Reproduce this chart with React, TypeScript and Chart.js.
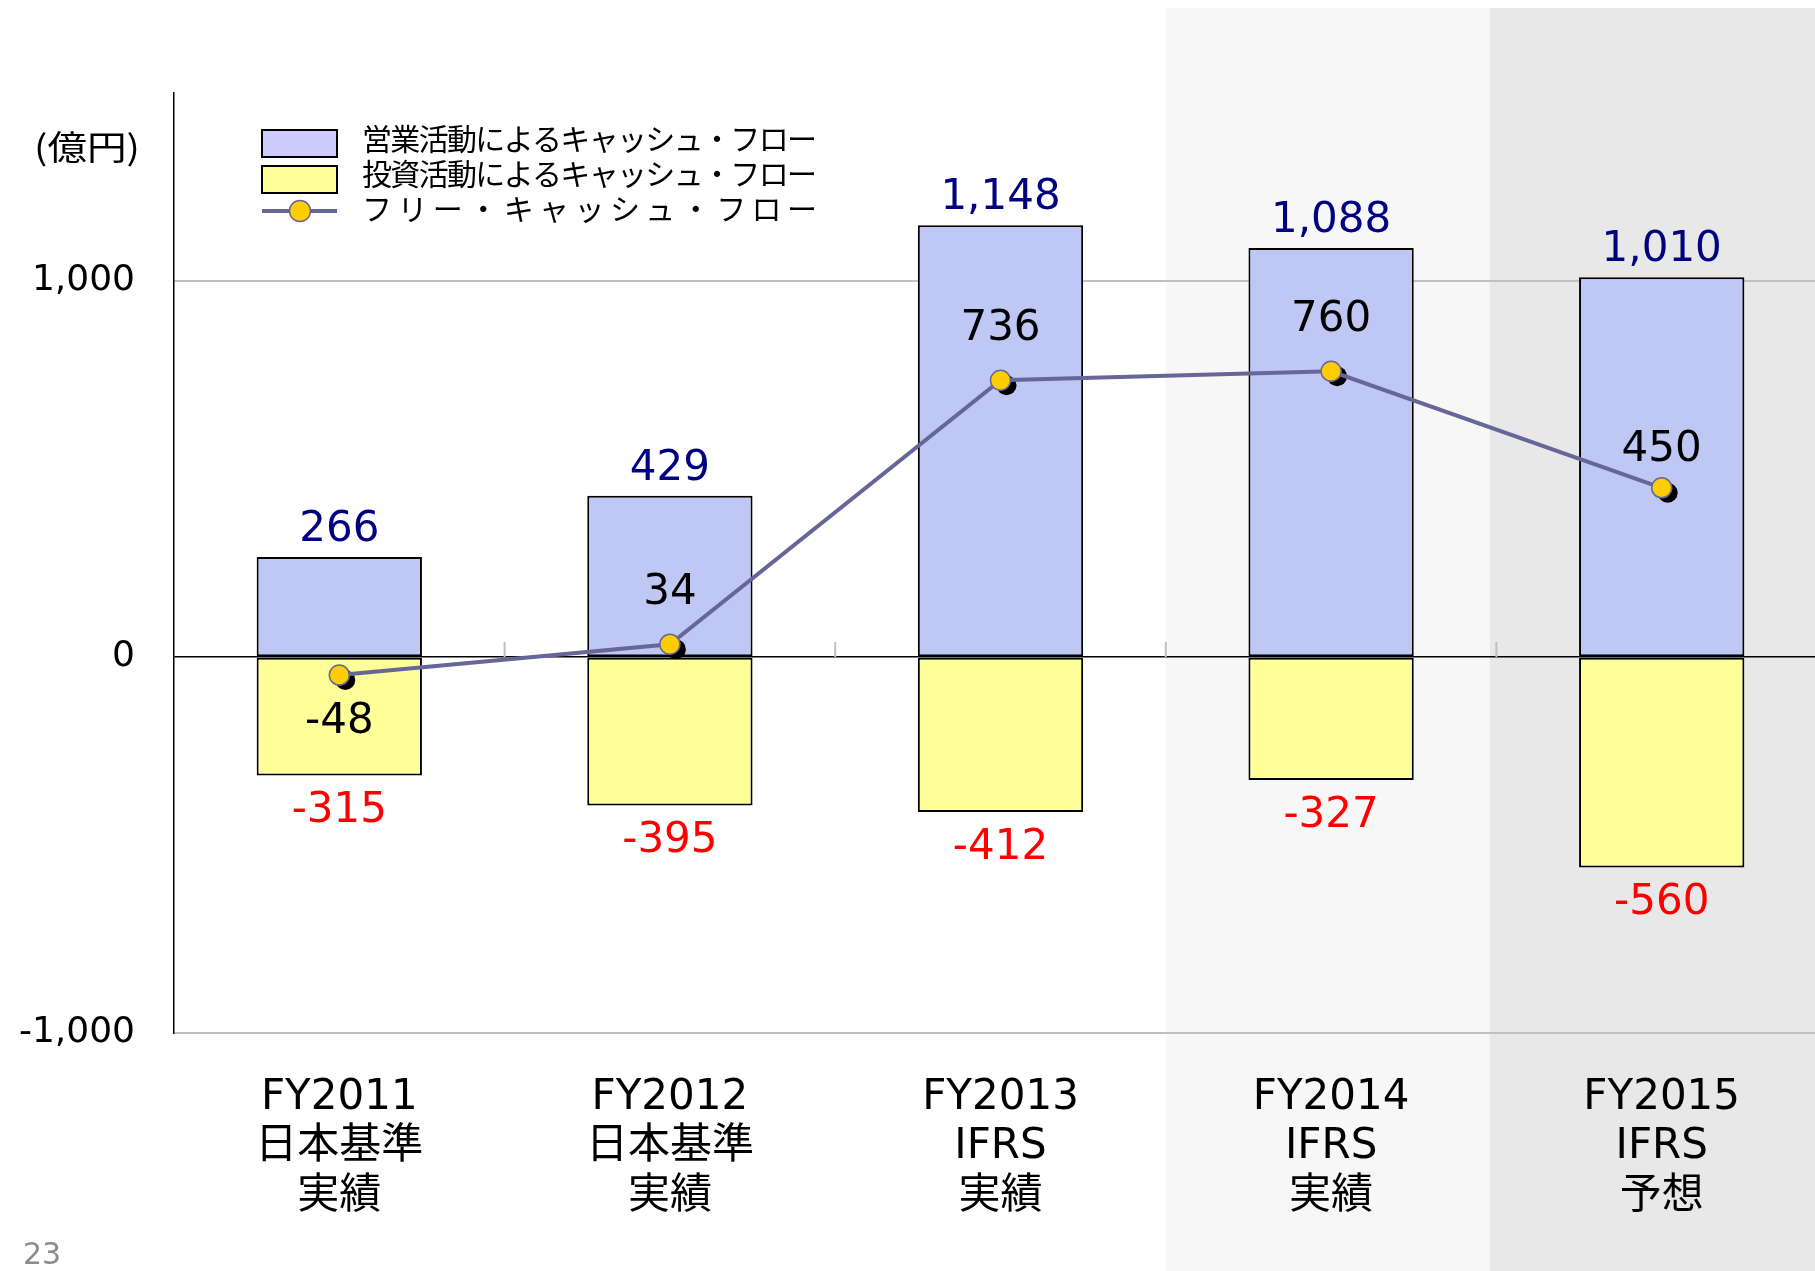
import React, { useEffect, useRef } from 'react';
import { Chart, registerables } from 'chart.js';

Chart.register(...registerables);

// ---- data ----
const categories = [
  ['FY2011', '日本基準', '実績'],
  ['FY2012', '日本基準', '実績'],
  ['FY2013', 'IFRS', '実績'],
  ['FY2014', 'IFRS', '実績'],
  ['FY2015', 'IFRS', '予想'],
];
const operatingCF = [266, 429, 1148, 1088, 1010];
const investingCF = [-315, -395, -412, -327, -560];
const freeCF = [-48, 34, 736, 760, 450];
const yTickValues = [-1000, 0, 1000];
const seriesNames = [
  '営業活動によるキャッシュ・フロー',
  '投資活動によるキャッシュ・フロー',
  'フリー・キャッシュ・フロー',
];
const unitLabel = '(億円)';
const pageNumber = '23';

// ---- styles ----
const fcfLabelOffset = [47, -51, -51, -51, -38];
const opColor = '#BFC7F5';
const opLegendColor = '#CCCCFF';
const invColor = '#FFFF99';
const lineColor = '#666699';
const pointColor = '#FFCC00';
const bands = [
  { from: 2.5, to: 3.48, color: '#F7F7F7' },
  { from: 3.48, to: 5.5, color: '#E8E8E8' },
];
const NUM_FONT = "'DejaVu Sans', 'Noto Sans CJK JP', sans-serif";
const JP_FONT = "'Noto Sans CJK JP', 'DejaVu Sans', sans-serif";

const fmt = (v: number) => v.toLocaleString('en-US');

const bandPlugin = {
  id: 'bands',
  beforeDraw(chart: any) {
    const { ctx } = chart;
    const x = chart.scales.x;
    ctx.save();
    ctx.fillStyle = '#FFFFFF';
    ctx.fillRect(0, 0, chart.width, chart.height);
    for (const b of bands) {
      const l = x.getPixelForValue(b.from);
      const r = x.getPixelForValue(b.to);
      ctx.fillStyle = b.color;
      ctx.fillRect(l, 8, r - l, chart.height - 8);
    }
    ctx.restore();
  },
  beforeDatasetsDraw(chart: any) {
    const { ctx } = chart;
    const x = chart.scales.x;
    const y = chart.scales.y;
    const y0 = y.getPixelForValue(0);
    ctx.save();
    ctx.strokeStyle = '#BFBFBF';
    ctx.lineWidth = 2;
    for (let i = 0; i < categories.length - 1; i++) {
      const px = x.getPixelForValue(i + 0.5);
      ctx.beginPath();
      ctx.moveTo(px, y0 - 15);
      ctx.lineTo(px, y0);
      ctx.stroke();
    }
    ctx.restore();
  },
};

const shadowPlugin = {
  id: 'pointShadow',
  beforeDatasetDraw(chart: any, args: any) {
    if (args.index !== 2) return;
    const { ctx } = chart;
    ctx.save();
    ctx.fillStyle = '#000000';
    for (const pt of args.meta.data) {
      ctx.beginPath();
      ctx.arc(pt.x + 6, pt.y + 5, 10, 0, Math.PI * 2);
      ctx.fill();
    }
    ctx.restore();
  },
};

const labelPlugin = {
  id: 'valueLabels',
  afterDatasetsDraw(chart: any) {
    const { ctx } = chart;
    ctx.save();
    ctx.font = `42px ${NUM_FONT}`;
    ctx.textAlign = 'center';
    ctx.textBaseline = 'middle';
    chart.getDatasetMeta(0).data.forEach((bar: any, i: number) => {
      ctx.fillStyle = '#000080';
      ctx.fillText(fmt(operatingCF[i]), bar.x, bar.y - 27);
    });
    chart.getDatasetMeta(1).data.forEach((bar: any, i: number) => {
      ctx.fillStyle = '#FF0000';
      ctx.fillText(fmt(investingCF[i]), bar.x, bar.y + 36);
    });
    chart.getDatasetMeta(2).data.forEach((pt: any, i: number) => {
      ctx.fillStyle = '#000000';
      ctx.fillText(fmt(freeCF[i]), pt.x, pt.y + fcfLabelOffset[i]);
    });
    ctx.restore();
  },
};

function drawJustified(ctx: any, text: string, x: number, y: number, width: number) {
  const chars = Array.from(text);
  const widths = chars.map((c) => ctx.measureText(c).width);
  const total = widths.reduce((a, b) => a + b, 0);
  const gap = chars.length > 1 ? (width - total) / (chars.length - 1) : 0;
  let cx = x;
  chars.forEach((c, i) => {
    ctx.fillText(c, cx, y);
    cx += widths[i] + gap;
  });
}

const legendPlugin = {
  id: 'customLegend',
  afterDraw(chart: any) {
    const { ctx } = chart;
    ctx.save();
    const bx = 262;
    const bw = 75;
    ctx.lineWidth = 2;
    ctx.strokeStyle = '#000000';
    ctx.fillStyle = opLegendColor;
    ctx.fillRect(bx, 130, bw, 27);
    ctx.strokeRect(bx, 130, bw, 27);
    ctx.fillStyle = invColor;
    ctx.fillRect(bx, 166, bw, 27);
    ctx.strokeRect(bx, 166, bw, 27);
    ctx.strokeStyle = lineColor;
    ctx.lineWidth = 4;
    ctx.beginPath();
    ctx.moveTo(bx, 211);
    ctx.lineTo(bx + bw, 211);
    ctx.stroke();
    ctx.beginPath();
    ctx.arc(bx + 38, 211, 10.5, 0, Math.PI * 2);
    ctx.fillStyle = pointColor;
    ctx.fill();
    ctx.lineWidth = 1.5;
    ctx.stroke();
    ctx.fillStyle = '#000000';
    ctx.font = `30px ${JP_FONT}`;
    ctx.textAlign = 'left';
    ctx.textBaseline = 'middle';
    const ys = [139, 174, 209];
    seriesNames.forEach((name, i) => drawJustified(ctx, name, 362, ys[i], 455));

    ctx.font = `34px ${JP_FONT}`;
    const w = ctx.measureText(unitLabel).width;
    ctx.translate(34, 147);
    ctx.scale(106 / w, 1);
    ctx.fillText(unitLabel, 0, 0);
    ctx.setTransform(1, 0, 0, 1, 0, 0);

    ctx.font = `30px ${NUM_FONT}`;
    ctx.fillStyle = '#8C8C8C';
    ctx.fillText(pageNumber, 23, 1256);
    ctx.restore();
  },
};

export default function App() {
  const ref = useRef<HTMLCanvasElement>(null);
  useEffect(() => {
    document.body.style.margin = '0';
    const chart = new Chart(ref.current as HTMLCanvasElement, {
      type: 'bar',
      data: {
        labels: categories,
        datasets: [
          {
            type: 'bar',
            label: seriesNames[0],
            data: operatingCF,
            backgroundColor: opColor,
            borderColor: '#000000',
            borderWidth: 2,
            borderSkipped: false,
            grouped: false,
            barPercentage: 0.5,
            categoryPercentage: 1,
            order: 2,
          },
          {
            type: 'bar',
            label: seriesNames[1],
            data: investingCF,
            backgroundColor: invColor,
            borderColor: '#000000',
            borderWidth: 2,
            borderSkipped: false,
            grouped: false,
            barPercentage: 0.5,
            categoryPercentage: 1,
            order: 1,
          },
          {
            type: 'line',
            label: seriesNames[2],
            data: freeCF,
            borderColor: lineColor,
            borderWidth: 4,
            tension: 0,
            pointRadius: 10,
            pointBackgroundColor: pointColor,
            pointBorderColor: lineColor,
            pointBorderWidth: 1.5,
            order: 0,
          },
        ],
      } as any,
      options: {
        animation: false,
        responsive: false,
        events: [],
        layout: { autoPadding: false, padding: { top: 93, left: 0, right: 0, bottom: 0 } },
        plugins: {
          legend: { display: false },
          tooltip: { enabled: false },
          title: { display: false },
        },
        scales: {
          x: {
            offset: true,
            grid: { display: false, drawTicks: false },
            border: { display: false },
            ticks: {
              color: '#000000',
              font: { family: NUM_FONT, size: 42, lineHeight: 1.18 },
              padding: 40,
              maxRotation: 0,
              autoSkip: false,
            },
            afterFit(scale: any) {
              scale.height = 238;
            },
          },
          y: {
            min: -1000,
            max: 1500,
            ticks: {
              stepSize: 1000,
              color: '#000000',
              font: { family: NUM_FONT, size: 36 },
              padding: 39,
              callback: (v: any) => fmt(Number(v)),
            },
            afterBuildTicks(scale: any) {
              scale.ticks = yTickValues.map((v) => ({ value: v }));
            },
            afterFit(scale: any) {
              scale.width = 174;
            },
            grid: {
              drawTicks: false,
              color: (c: any) => (c.tick && c.tick.value === 0 ? '#000000' : '#C0C0C0'),
              lineWidth: (c: any) => (c.tick && c.tick.value === 0 ? 1.5 : 2),
            },
            border: { display: true, color: '#000000', width: 1.5 },
          },
        },
      } as any,
      plugins: [bandPlugin, shadowPlugin, labelPlugin, legendPlugin],
    });
    return () => chart.destroy();
  }, []);
  return (
    <div
      style={{
        position: 'fixed',
        left: 0,
        top: 0,
        width: 1815,
        height: 1271,
        overflow: 'hidden',
        background: '#FFFFFF',
      }}
    >
      <canvas ref={ref} width={1827} height={1271} style={{ display: 'block', width: 1827, height: 1271 }} />
    </div>
  );
}
